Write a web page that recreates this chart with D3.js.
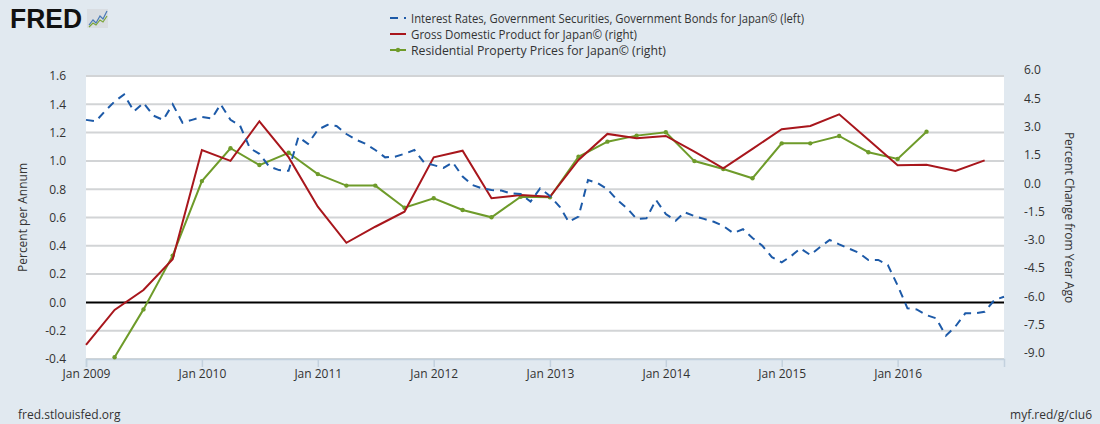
<!DOCTYPE html>
<html>
<head>
<meta charset="utf-8">
<script src="https://cdn.jsdelivr.net/npm/d3@7"></script>
<style>
  body { margin: 0; background: #e1e9f0; }
  text { font-family: "Open Sans", sans-serif; fill: #333; }
  .legend text { font-family: "Liberation Sans Narrow", "Open Sans", sans-serif; }
</style>
</head>
<body>
<div id="chart"></div>
<script>
// monthly 10y government bond yield, Jan 2009 .. Dec 2016 (left axis)
const rateStart = "2009-01-01";
const rateValues = [
  1.29, 1.28, 1.35, 1.42, 1.47, 1.35, 1.41, 1.32, 1.29, 1.40, 1.27, 1.29,
  1.31, 1.30, 1.40, 1.29, 1.25, 1.09, 1.05, 0.96, 0.935, 0.93, 1.17, 1.12,
  1.22, 1.255, 1.247, 1.19, 1.15, 1.12, 1.077, 1.025, 1.03, 1.05, 1.077, 0.99,
  0.97, 0.95, 0.99, 0.89, 0.83, 0.806, 0.794, 0.79, 0.77, 0.766, 0.712, 0.806,
  0.752, 0.676, 0.57, 0.606, 0.865, 0.842, 0.80, 0.724, 0.665, 0.59, 0.594, 0.724,
  0.625, 0.577, 0.637, 0.61, 0.59, 0.57, 0.54, 0.49, 0.517, 0.455, 0.40, 0.32,
  0.283, 0.33, 0.382, 0.335, 0.39, 0.441, 0.41, 0.38, 0.35, 0.30, 0.30, 0.265,
  0.12, -0.042, -0.05, -0.09, -0.112, -0.235, -0.17, -0.077, -0.077, -0.066, 0.017, 0.04
];

// quarterly series, percent change from year ago (right axis)
const quarters = [
  "2009-01", "2009-04", "2009-07", "2009-10", "2010-01", "2010-04", "2010-07", "2010-10",
  "2011-01", "2011-04", "2011-07", "2011-10", "2012-01", "2012-04", "2012-07", "2012-10",
  "2013-01", "2013-04", "2013-07", "2013-10", "2014-01", "2014-04", "2014-07", "2014-10",
  "2015-01", "2015-04", "2015-07", "2015-10", "2016-01", "2016-04", "2016-07", "2016-10"
];
const gdpValues = [
  -8.25, -6.4, -5.34, -3.71, 2.08, 1.5, 3.6, 1.7,
  -0.93, -2.84, -1.99, -1.19, 1.69, 2.04, -0.48, -0.31,
  -0.4, 1.55, 2.93, 2.7, 2.82, 1.99, 1.11, 2.14,
  3.18, 3.35, 3.97, 2.62, 1.27, 1.3, 0.97, 1.53
];
const propertyValues = [
  null, -8.91, -6.37, -3.52, 0.43, 2.17, 1.28, 1.93,
  0.8, 0.19, 0.19, -0.98, -0.48, -1.1, -1.49, -0.4,
  -0.43, 1.72, 2.52, 2.84, 3.02, 1.49, 1.07, 0.58,
  2.43, 2.43, 2.82, 1.96, 1.6, 3.05, null, null
];

const leftTicks = [-0.4, -0.2, 0.0, 0.2, 0.4, 0.6, 0.8, 1.0, 1.2, 1.4, 1.6];
const rightTicks = [-9.0, -7.5, -6.0, -4.5, -3.0, -1.5, 0.0, 1.5, 3.0, 4.5, 6.0];
const legendNames = [
  "Interest Rates, Government Securities, Government Bonds for Japan\u00a9 (left)",
  "Gross Domestic Product for Japan\u00a9 (right)",
  "Residential Property Prices for Japan\u00a9 (right)"
];

const width = 1100, height = 424;
const plot = { left: 86, right: 1004, top: 76, bottom: 359 };
const colors = { rate: "#1d5aa8", gdp: "#a8161c", prop: "#6e9b2a" };

const parseMonth = d3.timeParse("%Y-%m");
const parseDay = d3.timeParse("%Y-%m-%d");
const rateDates = d3.timeMonth.range(parseDay(rateStart), d3.timeMonth.offset(parseDay(rateStart), rateValues.length));
const rateData = rateValues.map((v, i) => ({ date: rateDates[i], value: v }));
const gdpData = quarters.map((q, i) => ({ date: parseMonth(q), value: gdpValues[i] }));
const propData = quarters.map((q, i) => ({ date: parseMonth(q), value: propertyValues[i] }));

const x = d3.scaleTime()
    .domain([parseDay("2009-01-01"), parseDay("2016-12-01")])
    .range([plot.left, plot.right]);
const yLeft = d3.scaleLinear().domain([-0.4, 1.6]).range([plot.bottom, plot.top]);
const yRight = d3.scaleLinear().domain([-9, 6]).range([plot.bottom, plot.top]);

const svg = d3.select("#chart").append("svg")
    .attr("width", width)
    .attr("height", height);

svg.append("rect")
    .attr("width", width).attr("height", height)
    .attr("fill", "#e1e9f0");

svg.append("rect")
    .attr("x", plot.left).attr("y", plot.top)
    .attr("width", plot.right - plot.left).attr("height", plot.bottom - plot.top)
    .attr("fill", "#fff");

// grid
svg.append("g")
  .selectAll("line")
  .data(leftTicks)
  .enter().append("line")
    .attr("x1", plot.left).attr("x2", plot.right)
    .attr("y1", d => yLeft(d)).attr("y2", d => yLeft(d))
    .attr("stroke", d => d === 0 ? "#000" : "#d2d4d6")
    .attr("stroke-width", 2);

// x axis
const xAxis = svg.append("g")
    .attr("transform", `translate(0,${plot.bottom})`)
    .call(d3.axisBottom(x)
      .ticks(d3.timeYear.every(1))
      .tickFormat(d3.timeFormat("Jan %Y"))
      .tickSizeOuter(0)
      .tickSize(8)
      .tickPadding(2));
xAxis.select(".domain").attr("stroke", "#c3d1de").attr("stroke-width", 1.5);
xAxis.selectAll(".tick line").attr("stroke", "#c3d1de").attr("stroke-width", 1.5);
xAxis.selectAll(".tick text").attr("font-size", 12).attr("fill", "#333")
    .style("font-family", "'Open Sans', sans-serif");

// left axis
const leftAxis = svg.append("g")
    .attr("transform", `translate(${plot.left},0)`)
    .call(d3.axisLeft(yLeft).tickValues(leftTicks).tickFormat(d => d.toFixed(1)).tickSize(0).tickPadding(20));
leftAxis.select(".domain").remove();
leftAxis.selectAll(".tick text").attr("font-size", 12).attr("fill", "#333")
    .style("font-family", "'Open Sans', sans-serif");

// right axis (labels sit a little above their grid line)
const rightAxis = svg.append("g")
    .attr("transform", `translate(${plot.right},-6)`)
    .call(d3.axisRight(yRight).tickValues(rightTicks).tickFormat(d => d.toFixed(1)).tickSize(0).tickPadding(20));
rightAxis.select(".domain").remove();
rightAxis.selectAll(".tick text").attr("font-size", 12).attr("fill", "#333")
    .style("font-family", "'Open Sans', sans-serif");

// axis titles
svg.append("text")
    .attr("transform", `translate(27,${(plot.top + plot.bottom) / 2}) rotate(-90)`)
    .attr("text-anchor", "middle")
    .attr("font-size", 12)
    .text("Percent per Annum");
svg.append("text")
    .attr("transform", `translate(1065,${(plot.top + plot.bottom) / 2}) rotate(90)`)
    .attr("text-anchor", "middle")
    .attr("font-size", 12)
    .text("Percent Change from Year Ago");

// lines
const lineLeft = d3.line().x(d => x(d.date)).y(d => yLeft(d.value));
const lineRight = d3.line()
    .defined(d => d.value !== null)
    .x(d => x(d.date)).y(d => yRight(d.value));

svg.append("path")
    .datum(propData)
    .attr("fill", "none")
    .attr("stroke", colors.prop)
    .attr("stroke-width", 2)
    .attr("d", lineRight);

svg.append("g")
  .selectAll("circle")
  .data(propData.filter(d => d.value !== null))
  .enter().append("circle")
    .attr("cx", d => x(d.date))
    .attr("cy", d => yRight(d.value))
    .attr("r", 2.2)
    .attr("fill", colors.prop);

svg.append("path")
    .datum(gdpData)
    .attr("fill", "none")
    .attr("stroke", colors.gdp)
    .attr("stroke-width", 2)
    .attr("d", lineRight);

svg.append("path")
    .datum(rateData)
    .attr("fill", "none")
    .attr("stroke", colors.rate)
    .attr("stroke-width", 2)
    .attr("stroke-dasharray", "8,6")
    .attr("d", lineLeft);

// legend
const legend = svg.append("g").attr("class", "legend");
const legendWidths = [393, 226, 255];
legendNames.forEach(function(name, i) {
  const gy = 18 + i * 16;
  const key = ["rate", "gdp", "prop"][i];
  legend.append("line")
      .attr("x1", 390).attr("x2", 406)
      .attr("y1", gy).attr("y2", gy)
      .attr("stroke", colors[key])
      .attr("stroke-width", 2)
      .attr("stroke-dasharray", key === "rate" ? "8,6" : null);
  if (key === "prop") {
    legend.append("circle").attr("cx", 398).attr("cy", gy).attr("r", 2.2).attr("fill", colors.prop);
  }
  legend.append("text")
      .attr("x", 411).attr("y", gy)
      .attr("dy", "0.35em")
      .attr("font-size", 13)
      .attr("textLength", legendWidths[i])
      .attr("lengthAdjust", "spacingAndGlyphs")
      .text(name);
});

// logo
const logo = svg.append("g");
logo.append("text")
    .attr("x", 10).attr("y", 28)
    .attr("font-size", 27)
    .attr("font-weight", "bold")
    .attr("textLength", 72)
    .attr("lengthAdjust", "spacingAndGlyphs")
    .style("font-family", "'Liberation Sans', Arial, sans-serif")
    .style("fill", "#111")
    .text("FRED");
logo.append("rect")
    .attr("x", 87).attr("y", 9).attr("width", 21).attr("height", 19)
    .attr("fill", "#d9dde2");
logo.append("path")
    .attr("d", "M89,25 L93,20 L96,23 L100,16 L103,19 L107,11")
    .attr("fill", "none").attr("stroke", "#4a79b5").attr("stroke-width", 1.2);
logo.append("path")
    .attr("d", "M89,27 L93,23 L96,25 L100,20 L103,22 L107,16")
    .attr("fill", "none").attr("stroke", "#7aa53a").attr("stroke-width", 1.2);

// footer
svg.append("text")
    .attr("x", 18).attr("y", 419)
    .attr("font-size", 12)
    .text("fred.stlouisfed.org");
svg.append("text")
    .attr("x", 1092).attr("y", 419)
    .attr("text-anchor", "end")
    .attr("font-size", 12)
    .text("myf.red/g/cIu6");
</script>
</body>
</html>
